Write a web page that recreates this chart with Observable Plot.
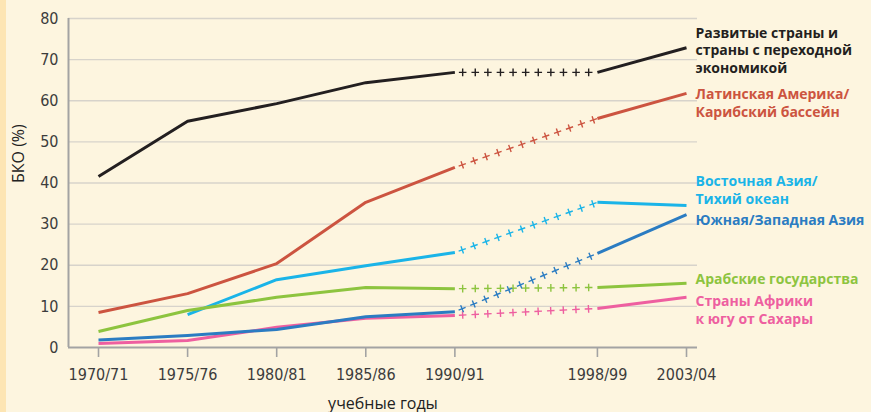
<!DOCTYPE html>
<html><head><meta charset="utf-8">
<script src="https://cdn.jsdelivr.net/npm/d3@7"></script>
<script src="https://cdn.jsdelivr.net/npm/@observablehq/plot@0.6"></script>
<style>
html,body{margin:0;padding:0;background:#fdf5df;}
#chart{position:relative;width:871px;height:412px;background:linear-gradient(to right,#fde5b3 0,#fde5b3 6px,#fdf5df 6px);}
#chart svg{display:block;background:transparent;}
</style></head><body><div id="chart"></div>
<script>
const years = [1970, 1975, 1980, 1985, 1990, 1998, 2003];
const yearLabels = ["1970/71", "1975/76", "1980/81", "1985/86", "1990/91", "1998/99", "2003/04"];
const yTicks = [0, 10, 20, 30, 40, 50, 60, 70, 80];

const developed     = [41.6, 55.0, 59.3, 64.4, 66.9, 66.9, 72.9];
const latinAmerica  = [8.5, 13.1, 20.4, 35.3, 43.8, 55.7, 61.8];
const eastAsia      = [null, 8.0, 16.5, 19.9, 23.1, 35.3, 34.5];
const southWestAsia = [1.8, 2.9, 4.4, 7.5, 8.7, 22.9, 32.3];
const arabStates    = [3.9, 9.0, 12.2, 14.6, 14.3, 14.6, 15.6];
const subSaharan    = [1.0, 1.7, 4.9, 7.1, 7.8, 9.5, 12.2];

const seriesNames = [
  "Развитые страны и\nстраны с переходной\nэкономикой",
  "Латинская Америка/\nКарибский бассейн",
  "Восточная Азия/\nТихий океан",
  "Южная/Западная Азия",
  "Арабские государства",
  "Страны Африки\nк югу от Сахары"
];
const seriesValues = [developed, latinAmerica, eastAsia, southWestAsia, arabStates, subSaharan];
const seriesColors = ["#231f20", "#cc5440", "#1ab4e8", "#2b7cc2", "#8dc43f", "#ee5fa0"];
const labelY = [72.4, 59.6, 38.4, 31.2, 16.8, 9.3];
const drawOrder = [0, 1, 2, 4, 5, 3];

const gapStart = 1990, gapEnd = 1998;
const xDomain = [1968.316, 2003.617];

function rows(vals, from, to) {
  return years.map((y, i) => ({year: y, value: vals[i]}))
    .filter(d => d.value != null && d.year >= from && d.year <= to);
}

const narrow = "Liberation Sans Narrow, DejaVu Sans Condensed, sans-serif";
const marks = [
  Plot.gridY({ticks: yTicks.filter(t => t > 0), stroke: "#d7d3cb", strokeOpacity: 1, strokeWidth: 1.3}),
  Plot.ruleX([xDomain[0]], {stroke: "#a3a3a3", strokeWidth: 2}),
  Plot.ruleY([0], {stroke: "#a3a3a3", strokeWidth: 2}),
  Plot.axisY({ticks: yTicks, tickSize: 0, tickPadding: 10, fontSize: 16, fontFamily: narrow, fill: "#3c3c3c", label: null}),
  Plot.axisX({ticks: years, tickFormat: d => yearLabels[years.indexOf(d)], tickSize: 10, tickPadding: 11, stroke: "#a3a3a3", strokeWidth: 1.6, fontSize: 16, fontFamily: narrow, fill: "#3c3c3c", label: null}),
  Plot.text(["БКО (%)"], {frameAnchor: "left", rotate: -90, dx: -50, fontSize: 16, fontFamily: "Open Sans, sans-serif", fill: "#222"}),
  Plot.text(["учебные годы"], {frameAnchor: "bottom", dy: 56, lineAnchor: "middle", fontSize: 16, fontFamily: "Open Sans, sans-serif", fill: "#222"})
];

for (const k of drawOrder) {
  const vals = seriesValues[k], color = seriesColors[k];
  marks.push(Plot.line(rows(vals, years[0], gapStart), {x: "year", y: "value", stroke: color, strokeWidth: 3, strokeLinecap: "butt"}));
  marks.push(Plot.line(rows(vals, gapEnd, years[years.length - 1]), {x: "year", y: "value", stroke: color, strokeWidth: 3, strokeLinecap: "butt"}));
  // plus-sign line style between gapStart and gapEnd
  marks.push(Plot.line(rows(vals, gapStart, gapEnd), {x: "year", y: "value", stroke: color, strokeWidth: 1.4, strokeDasharray: "0 4 7.6 1", strokeLinecap: "butt"}));
  marks.push(Plot.line(rows(vals, gapStart, gapEnd), {x: "year", y: "value", stroke: color, strokeWidth: 7.6, strokeDasharray: "0 7.1 1.4 4.1", strokeLinecap: "butt"}));
}

const labels = seriesNames.map((t, i) => ({text: t, y: labelY[i], color: seriesColors[i]}));
marks.push(Plot.text(labels, {
  x: () => years[years.length - 1], y: "y", text: "text", dx: 9,
  textAnchor: "start", lineAnchor: "middle", lineHeight: 1.27,
  fill: d => d.color, fontWeight: "bold", fontSize: 14, fontFamily: "Open Sans, sans-serif"
}));

const chart = Plot.plot({
  width: 871, height: 412,
  marginLeft: 68, marginRight: 174, marginTop: 18, marginBottom: 65,
  x: {domain: xDomain},
  y: {domain: [0, 80]},
  color: {type: "identity"},
  style: {background: "transparent", overflow: "visible"},
  marks
});
document.getElementById("chart").appendChild(chart);
</script>
</body></html>
